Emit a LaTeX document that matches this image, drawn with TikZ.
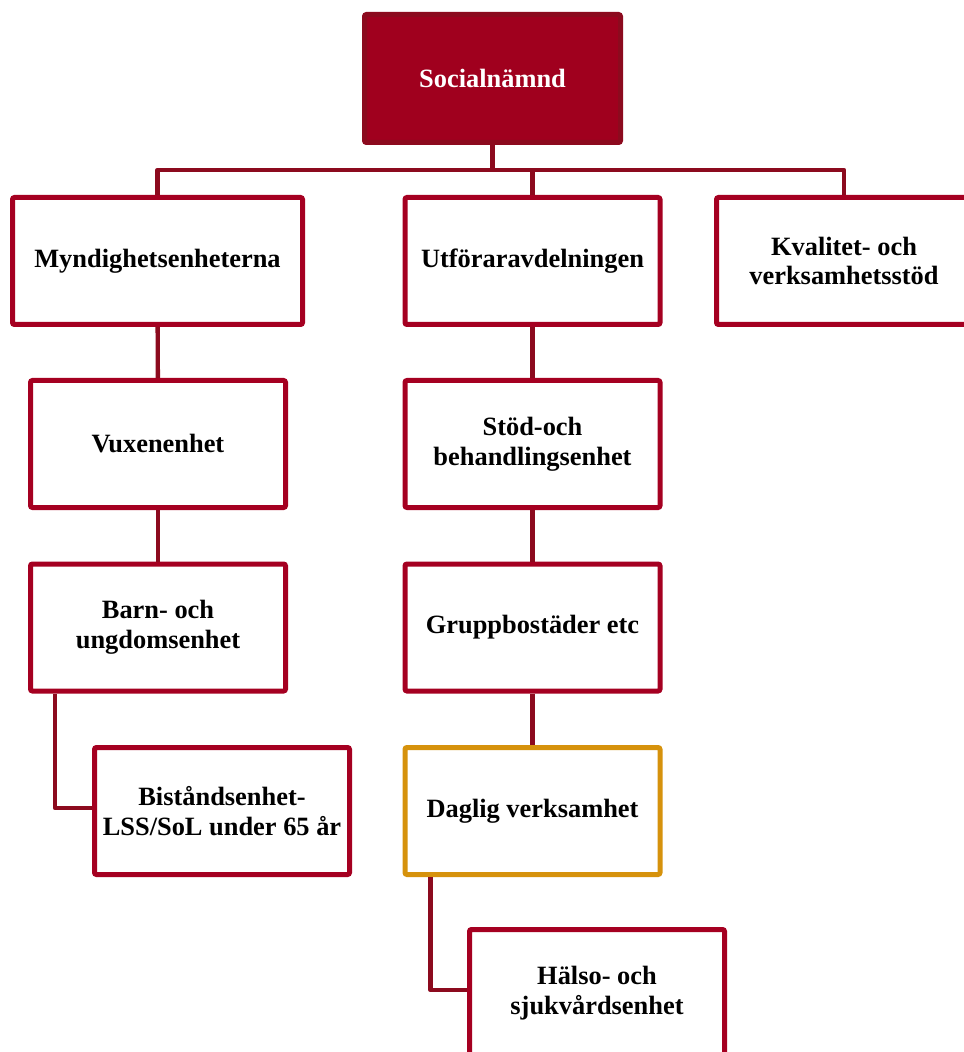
\documentclass[tikz,border=0pt]{standalone}
\usepackage{fontspec}
\setmainfont{Liberation Serif}
\usepackage{xcolor}
\usepackage{tikz}
\usetikzlibrary{calc}
\definecolor{R0}{HTML}{A50021}
\definecolor{R1}{HTML}{8C0A1E}
\definecolor{R2}{HTML}{A0001E}
\definecolor{G0}{HTML}{D6920C}

\begin{document}
\begin{tikzpicture}[x=0.5pt,y=-0.5pt]
\tikzstyle{unit}=[draw=R0, fill=white, line width=2.5pt, rounded corners=1pt, shape=rectangle, minimum width=127.5pt, minimum height=63.5pt, font=\fontsize{13.2}{14.8}\selectfont\bfseries, align=center]
\tikzstyle{link}=[draw=R1, line width=2.2pt, line join=round]
\useasboundingbox (0,0) rectangle (963,1052);
%
\node[unit, fill=R2, draw=R1, text=white, minimum width=128pt, minimum height=64pt](soc) at (492.5,78.5){Socialnämnd};
%
\node[unit, minimum width=145pt](mynd) at (157.5,261){Myndighetsenheterna};
\node[unit](utf) at (532.5,261){Utföraravdelningen};
\node[unit](kval) at (844,261){Kvalitet- och\\verksamhetsstöd};
%
\node[unit](vux) at (158,444){Vuxenenhet};
\node[unit](barn) at (158,627.5){Barn- och\\ungdomsenhet};
\node[unit](bist) at (222,811){Biståndsenhet-\\LSS/SoL under 65 år};
%
\node[unit](stod) at (532.5,444){Stöd-och\\behandlingsenhet};
\node[unit](grupp) at (532.5,627.5){Gruppbostäder etc};
\node[unit, draw=G0](dagl) at (532.5,811){Daglig verksamhet};
\node[unit](halso) at (597,993){Hälso- och\\sjukvårdsenhet};
%
\coordinate (bus) at (492.5,170);
\draw[link] (soc.south) -- (bus);
\draw[link] (mynd.north) |- (bus) -| (kval.north);
\draw[link] (utf.north) -- (utf.north |- bus);
%
\draw[link] (mynd) -- (vux);
\draw[link] (vux) -- (barn);
\draw[link] ([xshift=13.5pt]barn.south west) |- ([yshift=1.5pt]bist.west);
%
\draw[link] (utf) -- (stod);
\draw[link] (stod) -- (grupp);
\draw[link] (grupp) -- (dagl);
\draw[link] ([xshift=14pt]dagl.south west) |- ([yshift=1.5pt]halso.west);
%
\end{tikzpicture}
\end{document}
